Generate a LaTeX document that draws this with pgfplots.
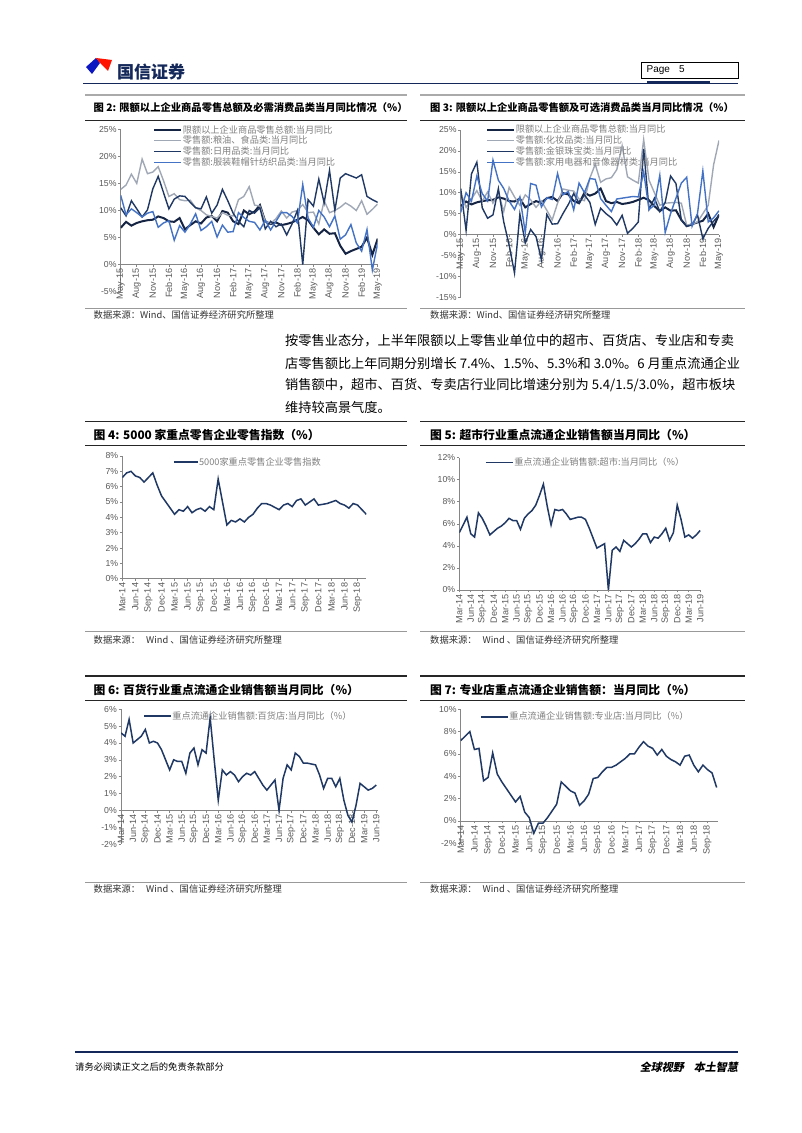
\documentclass[border=0pt]{standalone}
\usepackage{fontspec}
\usepackage{pgfplots}
\usepackage{pgfplotstable}
\pgfplotsset{compat=1.18}
\setmainfont{Liberation Sans}
\newfontfamily\cjk{Noto Sans CJK SC}
\newfontfamily\cjkit[FakeSlant=0.2]{Noto Sans CJK SC}
\definecolor{navy}{RGB}{31,56,100}
\definecolor{navyd}{RGB}{22,36,68}
\definecolor{lgray}{RGB}{160,168,182}
\definecolor{mblue}{RGB}{68,114,196}
\definecolor{tickgray}{RGB}{89,89,89}
\definecolor{leggray}{RGB}{128,128,128}
\definecolor{axgray}{RGB}{134,134,134}
\definecolor{bargray}{RGB}{170,170,170}
\definecolor{hdrnavy}{RGB}{20,40,90}

\pgfplotstableread{
a b c d
6.8 13.9 10.5 12.8
7.9 14.7 9.0 9.2
7.2 16.7 11.8 10.3
7.7 15.0 10.3 9.6
8.0 19.5 8.8 8.8
8.2 16.8 10.1 9.5
8.3 17.1 14.0 9.8
8.9 18.1 16.3 6.9
8.6 15.5 13.3 7.7
8.0 12.6 10.3 8.1
7.9 13.1 12.1 4.5
8.6 12.0 12.7 7.2
6.5 11.8 12.6 6.0
7.3 11.9 11.5 7.5
8.0 10.5 10.5 9.4
7.6 10.0 10.3 6.3
8.7 9.2 12.5 7.0
9.0 8.9 9.5 8.0
8.0 8.6 11.0 5.1
9.9 9.6 13.9 7.3
9.6 9.1 11.8 6.0
8.0 9.0 9.5 6.1
7.5 12.0 8.0 9.6
10.0 12.6 7.0 8.7
9.3 14.4 10.0 8.0
9.8 11.0 9.5 7.8
11.0 10.8 10.5 6.4
8.0 8.0 6.6 8.2
7.5 7.6 8.0 6.4
7.8 8.5 7.0 8.0
7.3 9.9 7.5 9.6
7.5 8.6 5.5 9.6
7.8 9.7 7.5 8.9
8.3 10.0 10.0 7.7
8.8 11.1 0.0 14.8
8.2 9.6 12.0 8.6
6.8 9.7 10.8 6.9
5.6 7.5 15.8 10.0
6.5 11.8 11.4 8.8
5.7 9.6 17.4 7.0
5.8 10.0 10.0 9.0
3.5 10.6 16.0 4.7
2.0 11.4 16.8 5.5
2.5 10.8 16.4 7.4
2.9 10.0 16.0 4.0
3.3 11.8 16.6 2.5
5.0 9.3 12.6 6.5
1.8 10.2 12.0 -1.0
4.8 11.2 11.5 4.0
}\dII

\pgfplotstableread{
a b c d
6.8 10.0 11.0 5.3
7.9 6.5 1.0 10.0
7.2 8.5 14.5 8.0
7.7 10.5 17.3 14.0
8.0 8.0 6.4 9.8
8.2 10.2 3.9 8.0
8.3 7.5 4.7 17.8
8.9 10.0 11.0 13.0
8.6 5.5 3.0 11.0
8.0 11.3 -2.5 8.0
7.9 9.0 -9.2 6.0
8.6 7.0 4.9 9.0
6.5 9.5 -2.0 0.5
7.3 8.3 1.2 12.2
8.0 6.5 -0.5 11.8
7.6 8.0 -6.0 6.6
8.7 5.8 4.8 8.8
9.0 3.5 2.5 8.4
8.0 7.5 2.6 14.6
9.9 10.9 5.0 9.5
9.6 10.6 7.2 10.3
8.0 10.4 9.8 5.9
7.5 8.5 7.5 12.3
10.0 8.1 9.5 10.0
9.3 13.5 7.7 13.4
9.8 16.8 2.4 13.2
11.0 12.5 6.3 8.6
8.0 13.3 5.0 7.0
7.5 13.6 4.0 5.5
7.8 15.5 2.3 8.5
7.3 21.2 4.6 8.7
7.5 13.8 0.3 8.9
7.8 13.0 1.5 9.1
8.3 12.3 3.0 9.0
8.8 22.7 20.5 15.0
8.2 13.0 6.0 6.0
6.8 10.0 8.7 7.0
5.6 7.0 5.5 14.2
6.5 7.5 7.7 0.5
5.7 7.6 14.0 5.0
5.8 7.7 12.2 8.7
3.5 7.5 3.5 12.3
2.0 2.2 2.0 13.7
2.5 2.5 2.3 2.0
2.9 3.0 4.7 5.0
3.3 5.0 -1.0 15.2
5.0 7.0 1.5 3.0
1.8 16.7 3.2 4.0
4.8 22.5 4.6 5.7
}\dIII

\pgfplotstableread{
v
6.6
6.9
7.0
6.7
6.6
6.3
6.6
6.9
6.1
5.4
5.0
4.6
4.2
4.5
4.4
4.7
4.3
4.5
4.6
4.4
4.7
4.5
6.5
5.0
3.5
3.8
3.7
3.9
3.7
4.0
4.2
4.6
4.9
4.9
4.8
4.65
4.5
4.8
4.9
4.7
5.1
5.2
4.8
5.0
5.2
4.8
4.85
4.9
5.0
5.1
4.9
4.8
4.6
4.9
4.8
4.5
4.2
}\dIV

\pgfplotstableread{
v
5.2
5.9
6.6
5.1
4.8
7.0
6.5
5.8
5.0
5.3
5.6
5.8
6.1
6.5
6.3
6.3
5.5
6.5
6.9
7.2
7.7
8.6
9.6
7.6
5.9
7.3
7.2
7.3
6.9
6.4
6.5
6.6
6.6
6.4
5.6
4.7
3.8
4.0
4.2
0.0
3.6
3.9
3.5
4.5
4.2
3.9
4.2
4.6
5.1
5.1
4.3
4.8
4.7
5.1
5.6
4.5
5.2
7.7
6.4
4.8
5.0
4.7
5.0
5.4
}\dV

\pgfplotstableread{
v
4.6
4.4
5.4
4.0
4.2
4.4
4.8
4.0
4.1
4.0
3.6
3.0
2.4
3.0
2.9
2.9
2.2
3.4
3.7
2.7
3.6
3.4
5.5
3.0
0.6
2.4
2.1
2.3
2.1
1.7
2.0
2.2
2.1
2.3
1.9
1.5
1.2
1.5
1.8
0.0
1.9
2.7
2.4
3.4
3.2
2.8
2.8
2.75
2.7
2.1
1.3
1.9
1.9
1.4
1.9
0.6
-0.3
-0.7
0.3
1.6
1.4
1.2
1.3
1.5
}\dVI

\pgfplotstableread{
v
7.2
7.6
8.0
6.4
6.5
3.6
3.9
6.1
4.2
3.5
2.9
2.3
1.7
2.2
0.8
0.3
-1.1
-0.2
-0.2
0.3
0.9
1.5
3.5
3.1
2.7
2.5
1.4
1.8
2.4
3.8
3.9
4.4
4.8
4.8
5.0
5.3
5.6
6.0
6.0
6.6
7.1
6.7
6.5
5.9
6.4
5.8
5.5
5.3
5.0
5.8
5.9
5.0
4.4
5.0
4.6
4.3
3.0
}\dVII

\pgfplotsset{
  pg/.style={
    scale only axis, anchor=south west,
    axis x line=middle, axis y line=left,
    axis line style={-, draw=axgray, line width=0.7pt},
    tick align=outside, major tick length=2.5pt,
    tick style={draw=axgray, line width=0.6pt},
    hide obscured x ticks=false, hide obscured y ticks=false,
    /pgf/number format/assume math mode=true,
    yticklabel={\pgfmathprintnumber{\tick}\%},
    y tick label style={font=\fontsize{8.7}{9}\selectfont, text=tickgray, inner sep=1.5pt},
    x tick label style={font=\fontsize{9.1}{9.5}\selectfont, text=tickgray, rotate=90, anchor=east, inner sep=1.5pt},
    legend style={draw=none, fill=none, font=\cjk\fontsize{9.2}{10}\selectfont, text=leggray,
      anchor=north west, legend cell align=left, row sep=0.4pt, inner sep=0pt, nodes={inner sep=0.6pt}},
    legend image code/.code={\draw[##1] (0pt,0pt) -- (27pt,0pt);},
    enlargelimits=false,
  },
  longx/.style={xtick={0,3,...,63}, xticklabels={Mar-14,Jun-14,Sep-14,Dec-14,Mar-15,Jun-15,Sep-15,Dec-15,Mar-16,Jun-16,Sep-16,Dec-16,Mar-17,Jun-17,Sep-17,Dec-17,Mar-18,Jun-18,Sep-18,Dec-18,Mar-19,Jun-19}},
  midx/.style={xtick={0,3,...,54}, xticklabels={Mar-14,Jun-14,Sep-14,Dec-14,Mar-15,Jun-15,Sep-15,Dec-15,Mar-16,Jun-16,Sep-16,Dec-16,Mar-17,Jun-17,Sep-17,Dec-17,Mar-18,Jun-18,Sep-18}},
  shortx/.style={xtick={0,3,...,48}, xticklabels={May-15,Aug-15,Nov-15,Feb-16,May-16,Aug-16,Nov-16,Feb-17,May-17,Aug-17,Nov-17,Feb-18,May-18,Aug-18,Nov-18,Feb-19,May-19}},
}

\begin{document}
\begin{tikzpicture}[x=1pt,y=1pt]
\path[use as bounding box, fill=white] (0,0) rectangle (802,1133);

% ---------- header ----------
\fill[blue!60!navy] (86,1066) -- (96,1075) -- (100,1070) -- (92,1059) -- cycle;
\fill[red!85!orange] (96,1075) -- (112,1073) -- (108,1062) -- (100,1070) -- cycle;
\node[anchor=west, inner sep=0, font=\cjk\bfseries\fontsize{17}{18}\selectfont, text=hdrnavy] at (117,1061) {国信证券};
\draw[hdrnavy, line width=1.6pt] (83,1049.3) -- (738,1049.3);
\draw[hdrnavy, line width=2.4pt] (647,1050.5) -- (710,1050.5);
\draw[black, line width=0.8pt] (641.7,1071) rectangle (738.3,1054.3);
\node[anchor=west, inner sep=0, font=\fontsize{10}{11}\selectfont] at (646.5,1062.5) {Page\hspace{9pt}5};
\draw[bargray, line width=2.2pt] (85,1037.7) -- (406.7,1037.7);
\draw[bargray, line width=2.2pt] (420,1037.7) -- (745,1037.7);

% ---------- chart 2 ----------
\node[anchor=west, inner sep=0, font=\cjk\bfseries\fontsize{10.3}{11}\selectfont] at (93.5,1025) {图 2: 限额以上企业商品零售总额及必需消费品类当月同比情况（\%）};
\draw[black!85, line width=0.8pt] (85,1013) -- (406.7,1013);
\begin{axis}[pg, shortx, at={(120.7pt,841.3pt)}, width=257pt, height=162.4pt,
  xmin=0, xmax=48, ymin=-5, ymax=25, ytick={-5,0,...,25},
  legend style={at={(0.126,1.03)}}]
\addplot[navyd, line width=2pt] table[x expr=\coordindex, y=a] {\dII};
\addlegendentry{限额以上企业商品零售总额:当月同比}
\addplot[lgray, line width=1.4pt] table[x expr=\coordindex, y=b] {\dII};
\addlegendentry{零售额:粮油、食品类:当月同比}
\addplot[navy, line width=1.4pt] table[x expr=\coordindex, y=c] {\dII};
\addlegendentry{零售额:日用品类:当月同比}
\addplot[mblue, line width=1.4pt] table[x expr=\coordindex, y=d] {\dII};
\addlegendentry{零售额:服装鞋帽针纺织品类:当月同比}
\end{axis}
\draw[black!40, line width=0.6pt] (85,825) -- (406.7,825);
\node[anchor=west, inner sep=0, font=\cjk\fontsize{9.3}{10}\selectfont, text=black!80] at (93.5,818) {数据来源：Wind、国信证券经济研究所整理};

% ---------- chart 3 ----------
\node[anchor=west, inner sep=0, font=\cjk\bfseries\fontsize{10.3}{11}\selectfont] at (430,1025) {图 3: 限额以上企业商品零售额及可选消费品类当月同比情况（\%）};
\draw[black!85, line width=0.8pt] (420,1013) -- (745,1013);
\begin{axis}[pg, shortx, at={(460.7pt,835.7pt)}, width=258.3pt, height=167.3pt,
  xmin=0, xmax=48, ymin=-15, ymax=25, ytick={-15,-10,...,25},
  legend style={at={(0.098,1.035)}}]
\addplot[navyd, line width=2pt] table[x expr=\coordindex, y=a] {\dIII};
\addlegendentry{限额以上企业商品零售总额:当月同比}
\addplot[lgray, line width=1.4pt] table[x expr=\coordindex, y=b] {\dIII};
\addlegendentry{零售额:化妆品类:当月同比}
\addplot[navy, line width=1.4pt] table[x expr=\coordindex, y=c] {\dIII};
\addlegendentry{零售额:金银珠宝类:当月同比}
\addplot[mblue, line width=1.4pt] table[x expr=\coordindex, y=d] {\dIII};
\addlegendentry{零售额:家用电器和音像器材类:当月同比}
\end{axis}
\draw[black!40, line width=0.6pt] (420,825) -- (745,825);
\node[anchor=west, inner sep=0, font=\cjk\fontsize{9.3}{10}\selectfont, text=black!80] at (430,818) {数据来源：Wind、国信证券经济研究所整理};

% ---------- body text ----------
\begin{scope}[every node/.style={anchor=west, inner sep=0, font=\cjk\fontsize{13.2}{14}\selectfont}]
\node at (285,792) {按零售业态分，上半年限额以上零售业单位中的超市、百货店、专业店和专卖};
\node at (285,770) {店零售额比上年同期分别增长 7.4\%、1.5\%、5.3\%和 3.0\%。6 月重点流通企业};
\node at (285,748) {销售额中，超市、百货、专卖店行业同比增速分别为 5.4/1.5/3.0\%，超市板块};
\node at (285,726) {维持较高景气度。};
\end{scope}

% ---------- chart 4 ----------
\draw[black!85, line width=1.2pt] (85,711.3) -- (406.7,711.3);
\node[anchor=west, inner sep=0, font=\cjk\bfseries\fontsize{11.8}{12}\selectfont] at (93.5,698) {图 4: 5000 家重点零售企业零售指数（\%）};
\draw[black!85, line width=0.8pt] (85,688) -- (406.7,688);
\begin{axis}[pg, midx, at={(122.3pt,554.3pt)}, width=244pt, height=122.7pt,
  xmin=0, xmax=56, ymin=0, ymax=8, ytick={0,1,...,8},
  legend style={at={(0.207,0.995)}},
  legend image code/.code={\draw[#1] (0pt,0pt) -- (24pt,0pt);}]
\addplot[navy, line width=1.5pt] table[x expr=\coordindex, y=v] {\dIV};
\addlegendentry{5000家重点零售企业零售指数}
\end{axis}
\draw[black!40, line width=0.6pt] (85,501.3) -- (406.7,501.3);
\node[anchor=west, inner sep=0, font=\cjk\fontsize{9.3}{10}\selectfont, text=black!80] at (93.5,493) {数据来源：\hspace{6pt}Wind 、国信证券经济研究所整理};

% ---------- chart 5 ----------
\draw[black!85, line width=1.2pt] (420,711.3) -- (745,711.3);
\node[anchor=west, inner sep=0, font=\cjk\bfseries\fontsize{11.8}{12}\selectfont] at (430,698) {图 5: 超市行业重点流通企业销售额当月同比（\%）};
\draw[black!85, line width=0.8pt] (420,688) -- (745,688);
\begin{axis}[pg, longx, at={(459.3pt,543pt)}, width=242pt, height=132.3pt,
  xmin=0, xmax=63.3, ymin=0, ymax=12, ytick={0,2,...,12},
  legend style={at={(0.106,1.005)}}]
\addplot[navy, line width=1.5pt] table[x expr=\coordindex, y=v] {\dV};
\addlegendentry{重点流通企业销售额:超市:当月同比（\%）}
\end{axis}
\draw[black!40, line width=0.6pt] (420,501.3) -- (745,501.3);
\node[anchor=west, inner sep=0, font=\cjk\fontsize{9.3}{10}\selectfont, text=black!80] at (430,493) {数据来源：\hspace{6pt}Wind 、国信证券经济研究所整理};

% ---------- chart 6 ----------
\draw[black!85, line width=1.2pt] (85,457) -- (406.7,457);
\node[anchor=west, inner sep=0, font=\cjk\bfseries\fontsize{11.8}{12}\selectfont] at (93.5,443) {图 6: 百货行业重点流通企业销售额当月同比（\%）};
\draw[black!85, line width=0.8pt] (85,433) -- (406.7,433);
\begin{axis}[pg, longx, at={(121pt,289pt)}, width=256.5pt, height=134.7pt,
  xmin=0, xmax=63.3, ymin=-2, ymax=6, ytick={-2,-1,...,6},
  legend style={at={(0.086,0.99)}}]
\addplot[navy, line width=1.5pt] table[x expr=\coordindex, y=v] {\dVI};
\addlegendentry{重点流通企业销售额:百货店:当月同比（\%）}
\end{axis}
\draw[black!40, line width=0.6pt] (85,251) -- (406.7,251);
\node[anchor=west, inner sep=0, font=\cjk\fontsize{9.3}{10}\selectfont, text=black!80] at (93.5,244.5) {数据来源：\hspace{6pt}Wind 、国信证券经济研究所整理};

% ---------- chart 7 ----------
\draw[black!85, line width=1.2pt] (420,457) -- (745,457);
\node[anchor=west, inner sep=0, font=\cjk\bfseries\fontsize{11.8}{12}\selectfont] at (430,443) {图 7: 专业店重点流通企业销售额：当月同比（\%）};
\draw[black!85, line width=0.8pt] (420,433) -- (745,433);
\begin{axis}[pg, midx, at={(460.7pt,289.7pt)}, width=257.3pt, height=134pt,
  xmin=0, xmax=56.3, ymin=-2, ymax=10, ytick={-2,0,...,10},
  legend style={at={(0.075,0.985)}}]
\addplot[navy, line width=1.5pt] table[x expr=\coordindex, y=v] {\dVII};
\addlegendentry{重点流通企业销售额:专业店:当月同比（\%）}
\end{axis}
\draw[black!40, line width=0.6pt] (420,251) -- (745,251);
\node[anchor=west, inner sep=0, font=\cjk\fontsize{9.3}{10}\selectfont, text=black!80] at (430,244.5) {数据来源：\hspace{6pt}Wind 、国信证券经济研究所整理};

% ---------- footer ----------
\draw[hdrnavy, line width=1.3pt] (75,81) -- (738,81);
\node[anchor=west, inner sep=0, font=\cjk\fontsize{9.3}{10}\selectfont] at (75,66) {请务必阅读正文之后的免责条款部分};
\node[anchor=east, inner sep=0, font=\cjkit\bfseries\fontsize{11}{12}\selectfont] at (738,66) {全球视野\hspace{10pt}本土智慧};
\end{tikzpicture}
\end{document}
